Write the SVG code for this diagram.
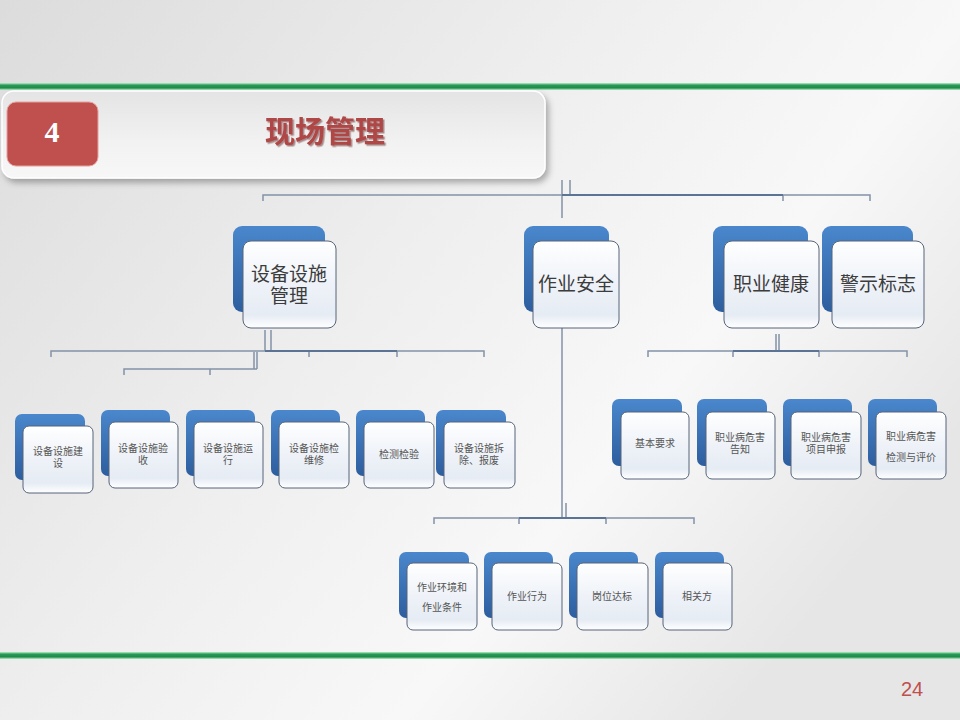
<svg xmlns="http://www.w3.org/2000/svg" width="960" height="720" viewBox="0 0 960 720">
<defs>
<linearGradient id="bg" x1="0" y1="0" x2="1" y2="0.6">
<stop offset="0" stop-color="#dcdcdc"/>
<stop offset="0.45" stop-color="#eeeeee"/>
<stop offset="0.75" stop-color="#f8f8f8"/>
<stop offset="1" stop-color="#e6e6e6"/>
</linearGradient>
<linearGradient id="banner" x1="0" y1="0" x2="0" y2="1">
<stop offset="0" stop-color="#e4e4e4"/>
<stop offset="0.6" stop-color="#f2f2f2"/>
<stop offset="1" stop-color="#f7f7f7"/>
</linearGradient>
<linearGradient id="blue" x1="0" y1="0" x2="0" y2="1">
<stop offset="0" stop-color="#4a87cc"/>
<stop offset="1" stop-color="#2d5e9f"/>
</linearGradient>
<linearGradient id="white" x1="0" y1="0" x2="0" y2="1">
<stop offset="0" stop-color="#ffffff"/>
<stop offset="0.5" stop-color="#eef2f8"/>
<stop offset="0.85" stop-color="#e6ecf4"/>
<stop offset="1" stop-color="#ffffff"/>
</linearGradient>
<linearGradient id="green" x1="0" y1="0" x2="0" y2="1">
<stop offset="0" stop-color="#b8f0c8"/>
<stop offset="0.3" stop-color="#2a9a58"/>
<stop offset="0.7" stop-color="#1e8a4a"/>
<stop offset="1" stop-color="#b8f0c8"/>
</linearGradient>
<filter id="sh" x="-5%" y="-10%" width="112%" height="130%">
<feDropShadow dx="3" dy="4" stdDeviation="3" flood-color="#000" flood-opacity="0.3"/>
</filter>
<filter id="tsh" x="-5%" y="-10%" width="115%" height="130%">
<feDropShadow dx="1.5" dy="1.5" stdDeviation="0.6" flood-color="#5a2020" flood-opacity="0.5"/>
</filter>
<style>
.back{fill:url(#blue)}
.front{fill:url(#white);stroke:#56657a;stroke-width:1}
.t1{font-family:"Liberation Sans","Noto Sans CJK SC",sans-serif;font-size:19px;fill:#3c3c3c;text-anchor:middle}
.t2{font-family:"Liberation Sans","Noto Sans CJK SC",sans-serif;font-size:10px;fill:#555;text-anchor:middle}
.ln{stroke:#8393a8;stroke-width:1.5;fill:none}
.dk{stroke:#5b7395;stroke-width:2;fill:none}
</style>
</defs>
<rect x="0" y="0" width="960" height="720" fill="url(#bg)"/>
<rect x="0" y="83" width="960" height="7" fill="url(#green)"/>
<rect x="0" y="652" width="960" height="7" fill="url(#green)"/>
<g id="banner">
<rect x="2" y="91" width="543" height="87" rx="12" fill="url(#banner)" stroke="#ffffff" stroke-width="1.5" filter="url(#sh)"/>
<rect x="7" y="102" width="91" height="64" rx="9" fill="#c0504d" stroke="#e6a09e" stroke-width="1"/>
<text x="52" y="142" font-family="Liberation Serif,serif" font-weight="bold" font-size="30" fill="#ffffff" text-anchor="middle">4</text>
<text x="325" y="142" font-family="Noto Sans CJK SC,sans-serif" font-weight="bold" font-size="30" fill="#b04646" text-anchor="middle" filter="url(#tsh)">现场管理</text>
</g>
<g id="connectors">
<path class="ln" d="M263 201V195H870V201M783 195V201M562 180V218M570 180V195"/>
<path class="dk" d="M562 195H783"/>
<path class="ln" d="M51 357V351H484V357M309 351V357M397 351V357M265 330V351M271 330V351"/>
<path class="dk" d="M265 351H397"/>
<path class="ln" d="M124 375V369H257M210 369V375M254 352V369M257 352V369"/>
<path class="ln" d="M648 357V351H907V357M733 351V357M819 351V357M776 334V351M779 334V351"/>
<path class="dk" d="M733 351H819"/>
<path class="ln" d="M562 328V518M566 503V518M434 524V518H694V524M519 518V524M606 518V524"/>
<path class="dk" d="M519 518H606"/>
</g>
<g id="n-sbss">
<rect class="back" x="233" y="226" width="92" height="86" rx="9"/>
<rect class="front" x="243" y="241" width="93" height="87" rx="8"/>
<text class="t1" x="289" y="281">设备设施</text>
<text class="t1" x="289" y="303">管理</text>
</g>
<g id="n-zyaq">
<rect class="back" x="524" y="226" width="85" height="86" rx="9"/>
<rect class="front" x="533" y="241" width="86" height="87" rx="8"/>
<text class="t1" x="576" y="291">作业安全</text>
</g>
<g id="n-zyjk">
<rect class="back" x="713" y="226" width="95" height="86" rx="9"/>
<rect class="front" x="724" y="241" width="95" height="87" rx="8"/>
<text class="t1" x="771" y="291">职业健康</text>
</g>
<g id="n-jsbz">
<rect class="back" x="822" y="226" width="91" height="86" rx="9"/>
<rect class="front" x="832" y="241" width="92" height="87" rx="8"/>
<text class="t1" x="878" y="291">警示标志</text>
</g>
<g id="n-jianshe">
<rect class="back" x="15" y="414" width="70" height="66" rx="7"/>
<rect class="front" x="23" y="426" width="70" height="67" rx="6"/>
<text class="t2" x="58" y="455">设备设施建</text>
<text class="t2" x="58" y="467">设</text>
</g>
<g id="n-yanshou">
<rect class="back" x="101" y="410" width="69" height="66" rx="7"/>
<rect class="front" x="109" y="422" width="69" height="66" rx="6"/>
<text class="t2" x="143" y="452">设备设施验</text>
<text class="t2" x="143" y="464">收</text>
</g>
<g id="n-yunxing">
<rect class="back" x="186" y="410" width="69" height="66" rx="7"/>
<rect class="front" x="194" y="422" width="69" height="66" rx="6"/>
<text class="t2" x="228" y="452">设备设施运</text>
<text class="t2" x="228" y="464">行</text>
</g>
<g id="n-jianweixiu">
<rect class="back" x="271" y="410" width="69" height="66" rx="7"/>
<rect class="front" x="279" y="422" width="70" height="66" rx="6"/>
<text class="t2" x="314" y="452">设备设施检</text>
<text class="t2" x="314" y="464">维修</text>
</g>
<g id="n-jiance">
<rect class="back" x="356" y="410" width="69" height="66" rx="7"/>
<rect class="front" x="364" y="422" width="70" height="66" rx="6"/>
<text class="t2" x="399" y="458">检测检验</text>
</g>
<g id="n-chaichu">
<rect class="back" x="436" y="410" width="70" height="66" rx="7"/>
<rect class="front" x="444" y="422" width="71" height="66" rx="6"/>
<text class="t2" x="479" y="452">设备设施拆</text>
<text class="t2" x="479" y="464">除、报废</text>
</g>
<g id="n-jiben">
<rect class="back" x="612" y="399" width="70" height="67" rx="7"/>
<rect class="front" x="621" y="412" width="68" height="67" rx="6"/>
<text class="t2" x="655" y="447">基本要求</text>
</g>
<g id="n-gaozhi">
<rect class="back" x="697" y="399" width="70" height="67" rx="7"/>
<rect class="front" x="706" y="412" width="69" height="67" rx="6"/>
<text class="t2" x="740" y="441">职业病危害</text>
<text class="t2" x="740" y="453">告知</text>
</g>
<g id="n-shenbao">
<rect class="back" x="783" y="399" width="69" height="67" rx="7"/>
<rect class="front" x="791" y="412" width="70" height="67" rx="6"/>
<text class="t2" x="826" y="441">职业病危害</text>
<text class="t2" x="826" y="453">项目申报</text>
</g>
<g id="n-pingjia">
<rect class="back" x="868" y="399" width="69" height="67" rx="7"/>
<rect class="front" x="876" y="412" width="70" height="67" rx="6"/>
<text class="t2" x="911" y="440">职业病危害</text>
<text class="t2" x="911" y="461">检测与评价</text>
</g>
<g id="n-huanjing">
<rect class="back" x="399" y="552" width="70" height="66" rx="7"/>
<rect class="front" x="407" y="563" width="70" height="67" rx="6"/>
<text class="t2" x="442" y="591">作业环境和</text>
<text class="t2" x="442" y="611">作业条件</text>
</g>
<g id="n-xingwei">
<rect class="back" x="484" y="552" width="69" height="66" rx="7"/>
<rect class="front" x="492" y="563" width="70" height="67" rx="6"/>
<text class="t2" x="527" y="600">作业行为</text>
</g>
<g id="n-gangwei">
<rect class="back" x="569" y="552" width="69" height="66" rx="7"/>
<rect class="front" x="577" y="563" width="71" height="67" rx="6"/>
<text class="t2" x="612" y="600">岗位达标</text>
</g>
<g id="n-xiangguan">
<rect class="back" x="655" y="552" width="69" height="66" rx="7"/>
<rect class="front" x="663" y="563" width="69" height="67" rx="6"/>
<text class="t2" x="697" y="600">相关方</text>
</g>
<text x="912" y="696" font-family="Liberation Sans,sans-serif" font-size="20" fill="#c0504d" text-anchor="middle">24</text>
</svg>
